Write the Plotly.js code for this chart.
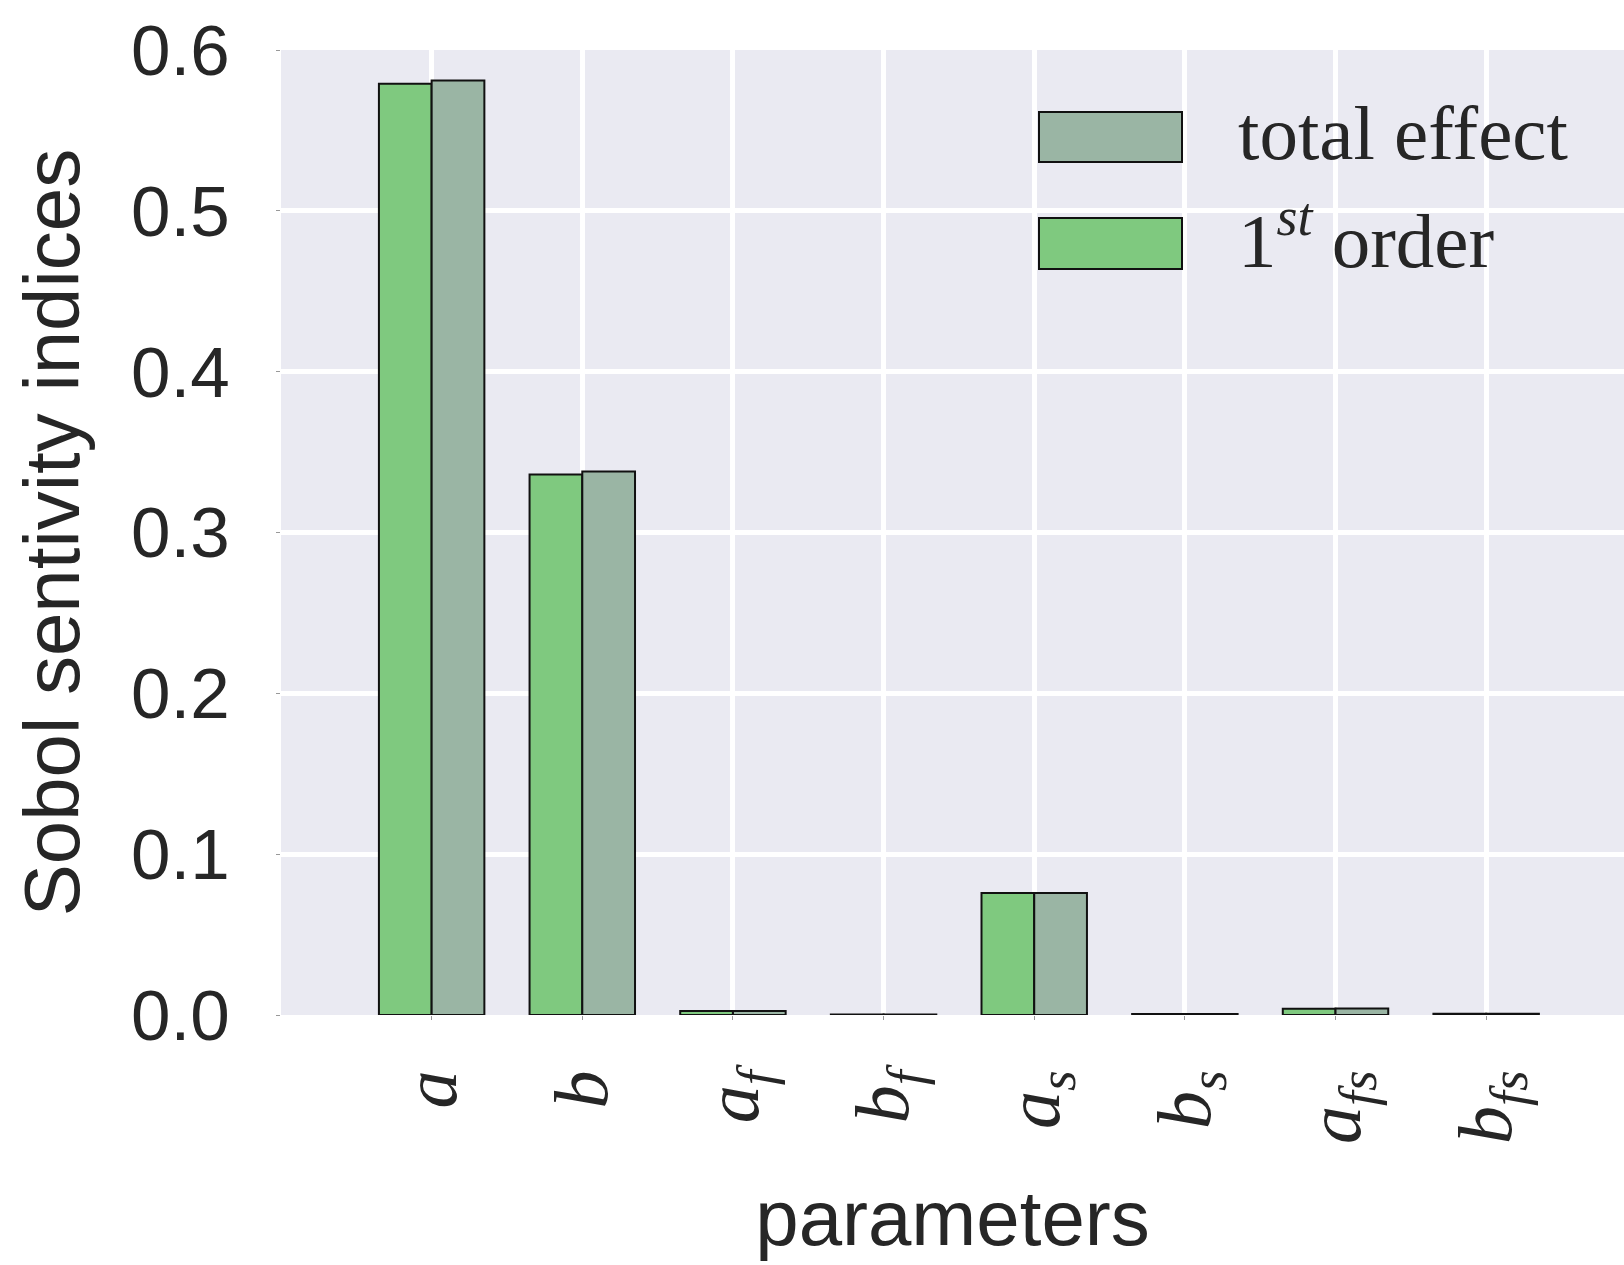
<!DOCTYPE html>
<html>
<head>
<meta charset="utf-8">
<script src="https://cdn.plot.ly/plotly-3.0.1.min.js"></script>
<style>
  html, body { margin: 0; padding: 0; background: #ffffff; }
  #chart { width: 1624px; height: 1265px; }
</style>
</head>
<body>
<div id="chart"></div>
<script>
// ---- data ----
const categories = ['a', 'b', 'a_f', 'b_f', 'a_s', 'b_s', 'a_fs', 'b_fs'];
const tickLabels = ['a', 'b', 'a<sub>f</sub>', 'b<sub>f</sub>', 'a<sub>s</sub>', 'b<sub>s</sub>', 'a<sub>fs</sub>', 'b<sub>fs</sub>'];
const firstOrder = [0.579, 0.336, 0.0025, 0.0003, 0.0759, 0.0006, 0.0039, 0.0008];
const totalEffect = [0.581, 0.338, 0.0025, 0.0003, 0.0759, 0.0006, 0.0040, 0.0008];
const yTickVals = [0.0, 0.1, 0.2, 0.3, 0.4, 0.5, 0.6];
const yTickLabels = ['0.0', '0.1', '0.2', '0.3', '0.4', '0.5', '0.6'];

// ---- layout geometry ----
const W = 1624, H = 1265;
const M = { l: 281, r: 0, t: 50, b: 250 };
const PW = W - M.l - M.r, PH = H - M.t - M.b;
const px2x = (px) => (px - M.l) / PW;
const py2y = (py) => (H - M.b - py) / PH;

const colFirst = '#7fc97f';
const colTotal = '#9ab5a4';
const edge = '#111111';
const textCol = '#262626';

const traces = [
  {
    type: 'bar', name: '1<sup>st</sup> order', x: categories, y: firstOrder,
    marker: { color: colFirst, line: { color: edge, width: 2 } },
    hoverinfo: 'x+y'
  },
  {
    type: 'bar', name: 'total effect', x: categories, y: totalEffect,
    marker: { color: colTotal, line: { color: edge, width: 2 } },
    hoverinfo: 'x+y'
  }
];

const legendFont = { family: 'Liberation Serif, DejaVu Serif, serif', size: 77, color: textCol };

const layout = {
  width: W, height: H,
  margin: M,
  paper_bgcolor: '#ffffff',
  plot_bgcolor: '#EAEAF2',
  showlegend: false,
  barmode: 'group',
  bargap: 0.3,
  bargroupgap: 0,
  xaxis: {
    type: 'category',
    range: [-1, 7.915],
    tickvals: categories,
    ticktext: tickLabels,
    tickangle: -90,
    tickfont: { family: 'Liberation Serif, DejaVu Serif, serif', size: 76, color: textCol, style: 'italic' },
    ticks: 'outside', ticklen: 4, tickwidth: 1, tickcolor: '#999999',
    ticklabelstandoff: 20,
    showgrid: true, gridcolor: '#ffffff', gridwidth: 5,
    zeroline: false, showline: false,
    title: { text: 'parameters', font: { family: 'Liberation Sans, Arial, sans-serif', size: 78, color: textCol }, standoff: 47 }
  },
  yaxis: {
    range: [0, 0.6],
    tickvals: yTickVals,
    ticktext: yTickLabels,
    tickfont: { family: 'Liberation Sans, Arial, sans-serif', size: 71, color: textCol },
    ticks: 'outside', ticklen: 4, tickwidth: 1, tickcolor: '#999999',
    ticklabelstandoff: 32,
    showgrid: true, gridcolor: '#ffffff', gridwidth: 5,
    zeroline: false, showline: false,
    title: { text: 'Sobol sentivity indices', font: { family: 'Liberation Sans, Arial, sans-serif', size: 78, color: textCol }, standoff: 25 }
  },
  shapes: [
    { type: 'rect', xref: 'paper', yref: 'paper', x0: px2x(1039), x1: px2x(1182), y0: py2y(162), y1: py2y(112),
      fillcolor: colTotal, line: { color: edge, width: 2 } },
    { type: 'rect', xref: 'paper', yref: 'paper', x0: px2x(1039), x1: px2x(1182), y0: py2y(269), y1: py2y(218),
      fillcolor: colFirst, line: { color: edge, width: 2 } }
  ],
  annotations: [
    { xref: 'paper', yref: 'paper', x: px2x(1236), y: py2y(133), xanchor: 'left', yanchor: 'middle',
      text: 'total effect', showarrow: false, font: legendFont },
    { xref: 'paper', yref: 'paper', x: px2x(1236), y: py2y(236), xanchor: 'left', yanchor: 'middle',
      text: '1<sup><i>st</i></sup> order', showarrow: false, font: legendFont }
  ]
};

Plotly.newPlot('chart', traces, layout, { displayModeBar: false, staticPlot: true });
</script>
</body>
</html>
